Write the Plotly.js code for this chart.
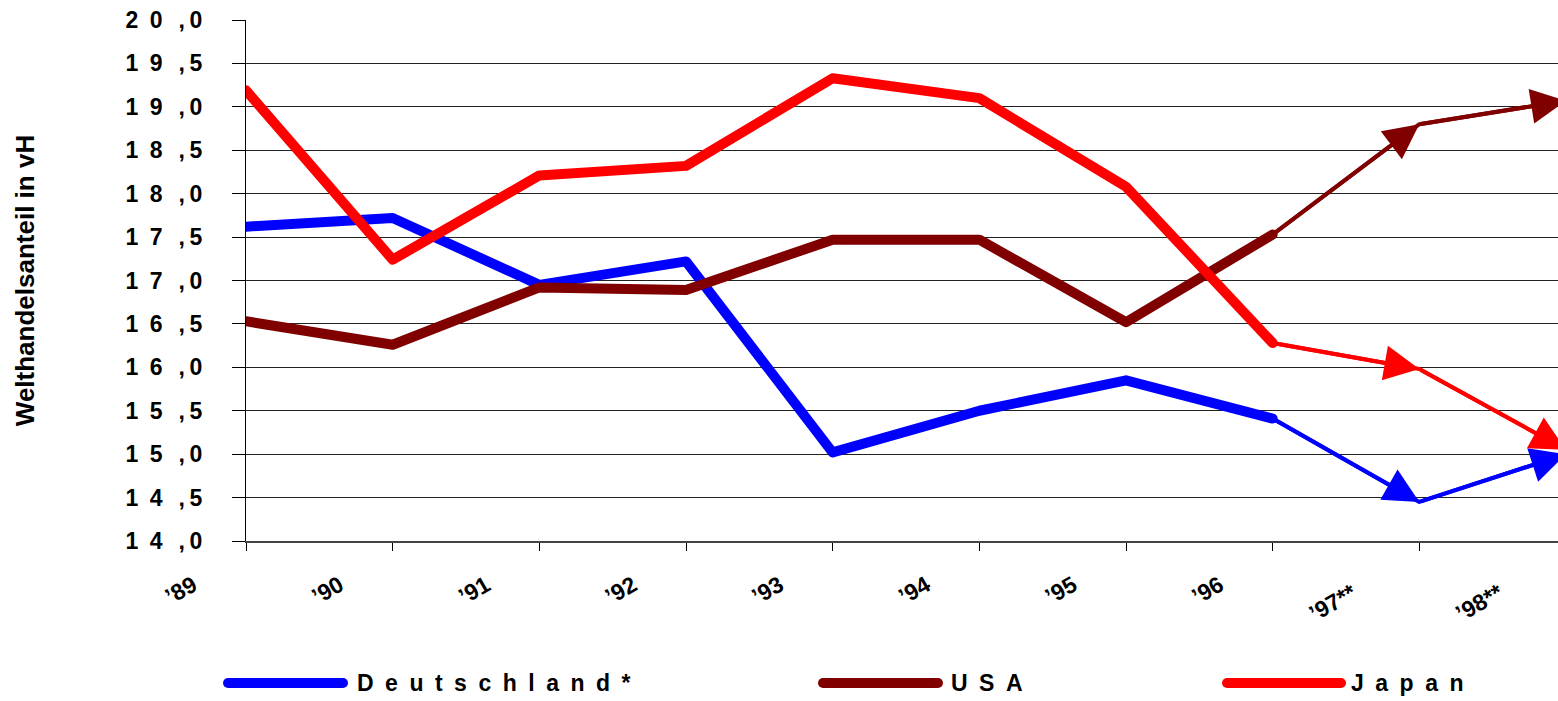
<!DOCTYPE html>
<html><head><meta charset="utf-8">
<script src="https://cdn.plot.ly/plotly-3.0.1.min.js"></script>
<style>
html,body{margin:0;padding:0;overflow:hidden;background:#fff}
#chart{width:1570px;height:701px}
.js-plotly-plot .scatterlayer .js-line{stroke-linecap:round;stroke-linejoin:round}
.js-plotly-plot .shapelayer path{stroke-linecap:round}
</style></head><body><div id="chart"></div><script>
// ---- data ----
const years = ["’89","’90","’91","’92","’93","’94","’95","’96","’97**","’98**"];
const seriesNames = ["Deutschland*","USA","Japan"];
const deutschland = [17.62,17.72,16.95,17.22,15.02,15.50,15.85,15.41];
const usa         = [16.53,16.26,16.92,16.89,17.47,17.47,16.52,17.53];
const japan       = [19.19,17.24,18.21,18.32,19.33,19.10,18.08,16.28];
const forecastYears = ["’96","’97**","’98**"];
const deutschlandForecast = [15.41,14.45,15.00];
const usaForecast         = [17.53,18.80,19.07];
const japanForecast       = [16.28,15.98,15.05];
const yTickVals   = [14,14.5,15,15.5,16,16.5,17,17.5,18,18.5,19,19.5,20];
const yTickLabels = ["14,0","14,5","15,0","15,5","16,0","16,5","17,0","17,5","18,0","18,5","19,0","19,5","20,0"];
const yTitle = "Welthandelsanteil in vH";
const colors = ["#0000FF","#800000","#FF0000"];

// ---- helpers ----
const EN="\u2002", TH="\u2009";
function spacedTick(s){ // "20,0" -> "2 0 , 0"
  return s[0]+EN+s[1]+EN+TH+","+TH+s[3];
}
function spaced(s){ return s.split('').join(EN); }
// forecast labels sit a little further left in the original
function xLabel(s){ return s.indexOf('*')>=0 ? s+EN+TH : s; }

const W=1570, H=701, ML=246, MR=4, MT=20, MB=160;
const pw=W-ML-MR, ph=H-MT-MB;
const px2x = p => (p-ML)/pw;
const py2y = p => (H-MB-p)/ph;
const FONT='Liberation Sans, Arial, sans-serif';

const main=[deutschland,usa,japan];
const fc=[deutschlandForecast,usaForecast,japanForecast];
const traces=[];
main.forEach((d,i)=>{
  traces.push({type:'scatter',mode:'lines',x:years.slice(0,d.length),y:d,name:seriesNames[i],
    line:{color:colors[i],width:10},showlegend:false,hoverinfo:'x+y'});
});
fc.forEach((d,i)=>{
  traces.push({type:'scatter',mode:'lines',x:forecastYears,y:d,name:seriesNames[i]+' Prognose',
    line:{color:colors[i],width:4},showlegend:false,hoverinfo:'x+y'});
});

const annotations=[];
fc.forEach((d,i)=>{
  for(let k=1;k<d.length;k++){
    const xi=years.indexOf(forecastYears[k]), xp=years.indexOf(forecastYears[k-1]);
    annotations.push({x:xi,y:d[k],ax:xp,ay:d[k-1],xref:'x',yref:'y',axref:'x',ayref:'y',
      text:'',showarrow:true,arrowhead:2,arrowsize:1.75,arrowwidth:4,arrowcolor:colors[i],standoff:0});
  }
});

// custom legend
const legendX=[[223,348,355],[818,943,949],[1222,1346,1349]];
const legY=683;
const shapes=[];
seriesNames.forEach((n,i)=>{
  shapes.push({type:'line',xref:'paper',yref:'paper',x0:px2x(legendX[i][0]+5),x1:px2x(legendX[i][1]-5),
    y0:py2y(legY),y1:py2y(legY),line:{color:colors[i],width:10}});
  annotations.push({xref:'paper',yref:'paper',x:px2x(legendX[i][2]),y:py2y(legY),xanchor:'left',yanchor:'middle',
    showarrow:false,text:spaced(n),font:{family:FONT,size:23,color:'#000',weight:700}});
});

const layout={
  width:W,height:H,margin:{l:ML,r:MR,t:MT,b:MB},
  paper_bgcolor:'#fff',plot_bgcolor:'#fff',showlegend:false,
  font:{family:FONT,color:'#000'},
  xaxis:{type:'category',categoryarray:years,range:[0,9],showgrid:false,zeroline:false,
    showline:true,linecolor:'#444',linewidth:2,ticks:'outside',ticklen:8,tickcolor:'#000',tickwidth:1,
    tickvals:years,ticktext:years.map(xLabel),
    tickangle:-30,ticklabelshift:-53,ticklabelstandoff:12,
    tickfont:{family:FONT,size:23,color:'#000',weight:700}},
  yaxis:{range:[14,20],tickvals:yTickVals,ticktext:yTickLabels.map(spacedTick),
    showgrid:true,gridcolor:'#222',gridwidth:1,zeroline:false,showline:true,linecolor:'#000',linewidth:1,
    ticks:'outside',ticklen:13,tickcolor:'#000',tickwidth:1,ticklabelstandoff:25,
    tickfont:{family:FONT,size:23,color:'#000',weight:700},
    title:{text:yTitle,standoff:83,font:{family:FONT,size:26,color:'#000',weight:700}}},
  shapes:shapes,annotations:annotations
};
Plotly.newPlot('chart',traces,layout,{displayModeBar:false,staticPlot:true});
</script></body></html>
